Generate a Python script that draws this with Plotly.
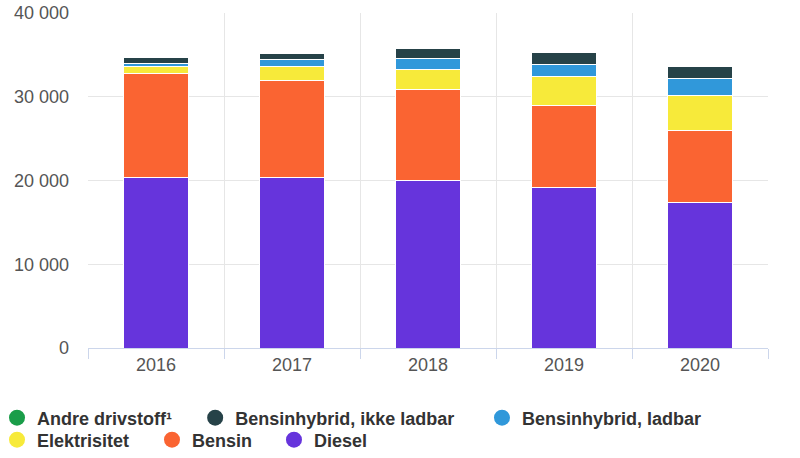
import plotly.graph_objects as go

years = ["2016", "2017", "2018", "2019", "2020"]

diesel = [20380, 20380, 20060, 19200, 17340]
bensin = [12340, 11580, 10750, 9730, 8620]
elektrisitet = [950, 1630, 2420, 3460, 4170]
hybrid_ladbar = [360, 880, 1360, 1520, 2030]
hybrid_ikke_ladbar = [600, 670, 1230, 1400, 1480]
andre = [20, 20, 20, 20, 20]

series = [
    ("Diesel", diesel, "#6634dc"),
    ("Bensin", bensin, "#fa6432"),
    ("Elektrisitet", elektrisitet, "#f7ea3a"),
    ("Bensinhybrid, ladbar", hybrid_ladbar, "#3098da"),
    ("Bensinhybrid, ikke ladbar", hybrid_ikke_ladbar, "#264248"),
    ("Andre drivstoff¹", andre, "#1a9d49"),
]

fig = go.Figure()
for name, vals, col in series:
    fig.add_trace(go.Bar(
        x=years, y=vals, name=name, showlegend=False,
        marker=dict(color=col, line=dict(color="white", width=1)),
        hoverinfo="skip",
    ))

# legend placement (flow layout like the reference): (legend id, x, y)
legend_slots = {
    "Andre drivstoff¹": ("legend", -0.1338, -0.209),
    "Bensinhybrid, ikke ladbar": ("legend2", 0.1576, -0.209),
    "Bensinhybrid, ladbar": ("legend3", 0.5794, -0.209),
    "Elektrisitet": ("legend4", -0.1338, -0.2746),
    "Bensin": ("legend5", 0.0941, -0.2746),
    "Diesel": ("legend6", 0.2735, -0.2746),
}

legend_font = dict(size=18, color="#333333",
                   family="Liberation Sans, Arial, sans-serif", weight="bold")
layout_legends = {}
for name, vals, col in reversed(series):
    lid, lx, ly = legend_slots[name]
    fig.add_trace(go.Scatter(
        x=[None], y=[None], mode="markers", name=name, legend=lid,
        marker=dict(color=col, size=17, symbol="circle"),
    ))
    layout_legends[lid] = dict(
        orientation="h", x=lx, xanchor="left", y=ly, yanchor="middle",
        font=legend_font, itemclick=False, itemdoubleclick=False,
        bgcolor="rgba(0,0,0,0)",
    )

fig.update_layout(
    width=800, height=458,
    barmode="stack", bargap=0.52,
    plot_bgcolor="white", paper_bgcolor="white",
    margin=dict(l=88, r=32, t=13, b=110, autoexpand=False),
    font=dict(family="Liberation Sans, Arial, sans-serif", color="#333333"),
    showlegend=True,
    xaxis=dict(
        type="category", tickson="boundaries", showgrid=True, gridcolor="#e6e6e6",
        showline=True, linecolor="#ccd6eb", linewidth=1,
        ticks="outside", ticklen=10, tickcolor="#ccd6eb",
        tickfont=dict(size=18, color="#555555"),
        range=[-0.5, 4.5],
    ),
    yaxis=dict(
        range=[0, 40000], tickvals=[0, 10000, 20000, 30000, 40000],
        ticktext=["0", "10 000", "20 000", "30 000", "40 000"],
        showgrid=True, gridcolor="#e6e6e6", zeroline=False,
        tickfont=dict(size=18, color="#555555"), ticks="", ticklabelstandoff=18,
        ticklabeloverflow="allow",
    ),
    **layout_legends,
)

fig.write_html(
    "out.html",
    config={"displayModeBar": False},
    post_script="document.body.style.margin='0';document.body.style.overflow='hidden';",
)
